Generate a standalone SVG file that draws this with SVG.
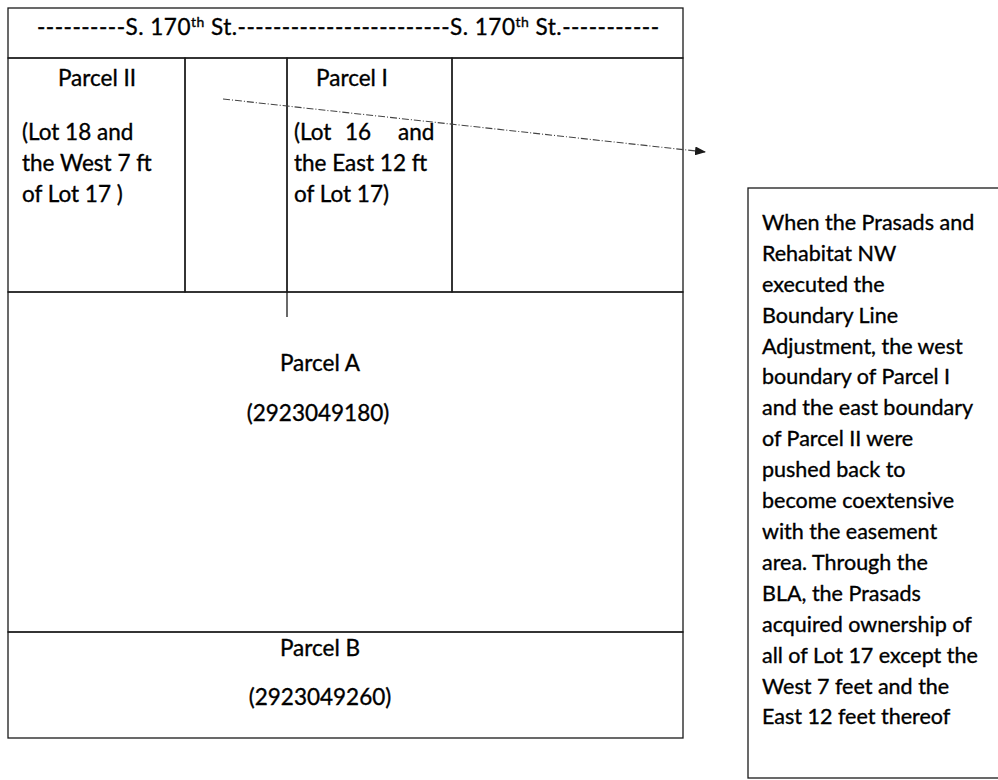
<svg xmlns="http://www.w3.org/2000/svg" width="998" height="780" viewBox="0 0 998 780">
<style>
.ln{stroke:#1a1a1a;stroke-width:1.3;fill:none}
.t{font-family:Lato,"Open Sans","Liberation Sans",sans-serif;font-size:22.5px;fill:#000;stroke:#000;stroke-width:0.35}
.c{text-anchor:middle}
.n{font-family:Lato,"Open Sans","Liberation Sans",sans-serif;font-size:21.5px;fill:#000;stroke:#000;stroke-width:0.35}
</style>
<defs>
<marker id="ah" markerWidth="11" markerHeight="9" refX="10" refY="4.5" orient="auto" markerUnits="userSpaceOnUse">
<path d="M0,0 L11,4.5 L0,9 Z" fill="#1a1a1a"/>
</marker>
</defs>
<rect width="998" height="780" fill="#fff"/>
<g id="street">
<rect class="ln" x="8" y="8" width="675" height="50"/>
<text class="t" x="37" y="35" textLength="622" lengthAdjust="spacing">----------S. 170<tspan font-size="14" dy="-8">th</tspan><tspan dy="8"> St.------------------------S. 170</tspan><tspan font-size="14" dy="-8">th</tspan><tspan dy="8"> St.-----------</tspan></text>
</g>
<g id="parcel-ii">
<rect class="ln" x="8" y="58" width="177" height="234"/>
<text class="t c" x="97" y="86">Parcel II</text>
<text class="t" x="22" y="140">(Lot 18 and</text>
<text class="t" x="22" y="171">the West 7 ft</text>
<text class="t" x="22" y="202">of Lot 17 )</text>
</g>
<g id="easement">
<rect class="ln" x="185" y="58" width="102" height="234"/>
</g>
<g id="parcel-i">
<rect class="ln" x="287" y="58" width="165" height="234"/>
<text class="t c" x="352" y="86">Parcel I</text>
<text class="t" y="140"><tspan x="294">(Lot</tspan><tspan x="345">16</tspan><tspan x="398">and</tspan></text>
<text class="t" x="294" y="171">the East 12 ft</text>
<text class="t" x="294" y="202">of Lot 17)</text>
</g>
<g id="east-lot">
<rect class="ln" x="452" y="58" width="231" height="234"/>
</g>
<g id="parcel-a">
<rect class="ln" x="8" y="292" width="675" height="340"/>
<line class="ln" x1="287" y1="292" x2="287" y2="317"/>
<text class="t c" x="320" y="371">Parcel A</text>
<text class="t c" x="318" y="421">(2923049180)</text>
</g>
<g id="parcel-b">
<rect class="ln" x="8" y="632" width="675" height="106"/>
<text class="t c" x="320" y="656">Parcel B</text>
<text class="t c" x="320" y="705">(2923049260)</text>
</g>
<g id="note">
<rect class="ln" x="748" y="188" width="260" height="590"/>
<text class="n">
<tspan x="762" y="230">When the Prasads and</tspan>
<tspan x="762" y="261">Rehabitat NW</tspan>
<tspan x="762" y="292">executed the</tspan>
<tspan x="762" y="323">Boundary Line</tspan>
<tspan x="762" y="354">Adjustment, the west</tspan>
<tspan x="762" y="384">boundary of Parcel I</tspan>
<tspan x="762" y="415">and the east boundary</tspan>
<tspan x="762" y="446">of Parcel II were</tspan>
<tspan x="762" y="477">pushed back to</tspan>
<tspan x="762" y="508">become coextensive</tspan>
<tspan x="762" y="539">with the easement</tspan>
<tspan x="762" y="570">area.  Through the</tspan>
<tspan x="762" y="601">BLA, the Prasads</tspan>
<tspan x="762" y="632">acquired ownership of</tspan>
<tspan x="762" y="663">all of Lot 17 except the</tspan>
<tspan x="762" y="694">West 7 feet and the</tspan>
<tspan x="762" y="724">East 12 feet thereof</tspan>
</text>
</g>
<g id="connectors">
<line x1="223" y1="99" x2="705" y2="152" stroke="#444" stroke-width="1.1" stroke-dasharray="7,2,1,2" marker-end="url(#ah)"/>
</g>
</svg>
